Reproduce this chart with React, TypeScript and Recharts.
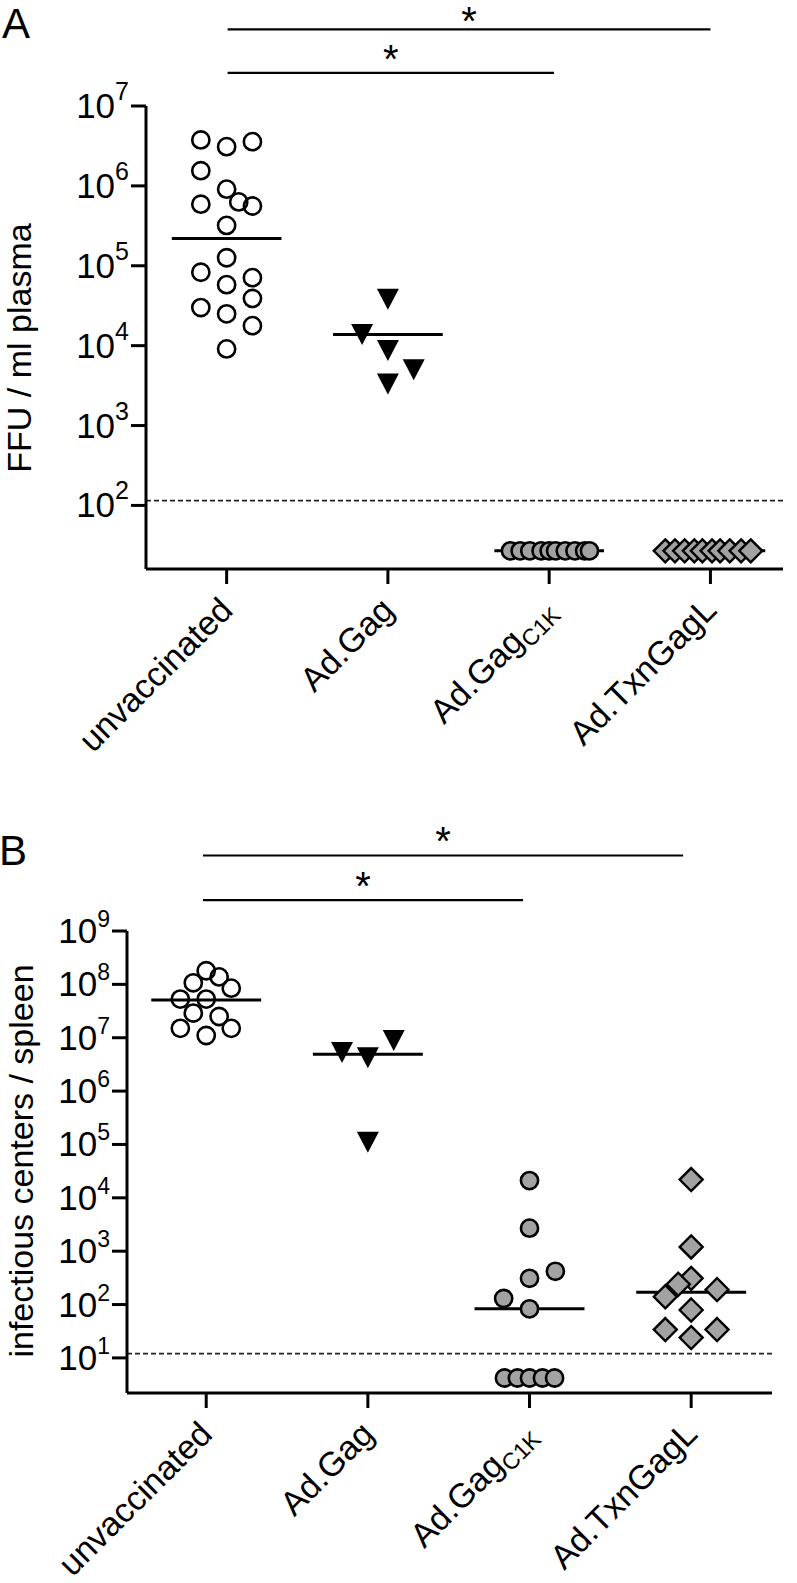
import React from 'react';
import {
  ScatterChart,
  Scatter,
  XAxis,
  YAxis,
  ReferenceLine,
} from 'recharts';

const FONT = '"Liberation Sans", Arial, Helvetica, sans-serif';
const GREY = '#a2a2a2';

// categories, shared by both panels
const groups = ['unvaccinated', 'Ad.Gag', 'Ad.Gag', 'Ad.TxnGagL'];
const groupSubs = ['', '', 'C1K', ''];
const groupIdx = [0, 1, 2, 3];

// panel A: FFU / ml plasma
const plasmaUnvac = [3.76e6, 3.1e6, 3.58e6, 1.55e6, 9.1e5, 6.3e5, 5.6e5, 5.9e5, 3.2e5, 1.26e5, 8.3e4, 5.8e4, 7.1e4, 3.9e4, 3.0e4, 2.5e4, 1.78e4, 9.1e3];
const plasmaUnvacJit = [-0.16, 0, 0.16, -0.16, 0, 0.075, 0.16, -0.16, 0, 0, -0.16, 0, 0.16, 0.16, -0.16, 0, 0.16, 0];
const plasmaGag = [3.8e4, 1.38e4, 8.7e3, 5.0e3, 3.3e3];
const plasmaGagJit = [0, -0.16, 0, 0.16, 0];
const plasmaC1K = [27, 27, 27, 27, 27, 27, 27, 27, 27, 27];
const plasmaC1KJit = [-0.24, -0.18, -0.12, -0.05, 0, 0.04, 0.1, 0.16, 0.22, 0.25];
const plasmaTxn = [27, 27, 27, 27, 27, 27, 27, 27, 27, 27];
const plasmaTxnJit = [-0.28, -0.22, -0.16, -0.1, -0.05, 0.01, 0.06, 0.12, 0.19, 0.25];
const plasmaMedians = [2.2e5, 1.38e4, 27, 27];
const plasmaLimit = 115;
const plasmaTicks = [1e2, 1e3, 1e4, 1e5, 1e6, 1e7];
const plasmaDomain = [16, 1e7];
const plasmaSigFrom = [0.006, 0.006];
const plasmaSigTo = [3.0, 2.03];
const plasmaSigLevel = [9.1e7, 2.6e7];

// panel B: infectious centers / spleen
const spleenUnvac = [1.8e8, 1.07e8, 1.38e8, 8.5e7, 5.3e7, 5.3e7, 2.9e7, 2.5e7, 1.5e7, 1.1e7, 1.5e7];
const spleenUnvacJit = [0, -0.08, 0.08, 0.155, -0.16, 0, -0.08, 0.08, -0.16, 0, 0.155];
const spleenGag = [5.3e6, 4.2e6, 8.9e6, 1.1e5];
const spleenGagJit = [-0.16, 0, 0.16, 0];
const spleenC1K = [2.1e4, 2.7e3, 3.1e2, 4.2e2, 1.3e2, 83, 4.2, 4.2, 4.2, 4.2, 4.2];
const spleenC1KJit = [0, 0, 0, 0.16, -0.16, 0, -0.155, -0.075, 0, 0.08, 0.155];
const spleenTxn = [2.2e4, 1.2e3, 3.1e2, 2.4e2, 1.4e2, 1.9e2, 79, 34, 34, 24];
const spleenTxnJit = [0, 0, 0, -0.08, -0.16, 0.16, 0, -0.16, 0.16, 0];
const spleenMedians = [5.1e7, 4.9e6, 83, 1.7e2];
const spleenLimit = 12;
const spleenTicks = [1e1, 1e2, 1e3, 1e4, 1e5, 1e6, 1e7, 1e8, 1e9];
const spleenDomain = [2.2, 1e9];
const spleenSigFrom = [-0.02, -0.02];
const spleenSigTo = [2.95, 1.96];
const spleenSigLevel = [2.6e10, 3.8e9];

const pts = (g: number, vals: number[], jit: number[]) =>
  vals.map((v, i) => ({ x: g + jit[i], y: v }));

const OpenCircle = (p: any) => (
  <circle cx={p.cx} cy={p.cy} r={8.6} fill="none" stroke="#000" strokeWidth={2.6} />
);
const GreyCircle = (p: any) => (
  <circle cx={p.cx} cy={p.cy} r={8.6} fill={GREY} stroke="#000" strokeWidth={2.6} />
);
const DownTriangle = (p: any) => (
  <path
    d={`M${p.cx - 11},${p.cy - 10.5} L${p.cx + 11},${p.cy - 10.5} L${p.cx},${p.cy + 10.5} Z`}
    fill="#000"
  />
);
const Diamond = (p: any) => (
  <path
    d={`M${p.cx},${p.cy - 11.5} L${p.cx + 11.5},${p.cy} L${p.cx},${p.cy + 11.5} L${p.cx - 11.5},${p.cy} Z`}
    fill={GREY}
    stroke="#000"
    strokeWidth={2.4}
    strokeLinejoin="miter"
  />
);

const makeYTick = (supDy: number, supSize: number) => (props: any) => {
  const { x, y, payload } = props;
  const exp = Math.round(Math.log10(payload.value));
  return (
    <text x={x} y={y + 12} textAnchor="end" fontSize={35} fontFamily={FONT} fill="#000">
      10
      <tspan dy={supDy} fontSize={supSize}>{exp}</tspan>
    </text>
  );
};

const XTick = (props: any) => {
  const { x, y, payload } = props;
  const i = Math.round(payload.value);
  return (
    <g transform={`translate(${x + 8},${y + 26}) rotate(-45)`}>
      <text x={0} y={0} textAnchor="end" fontSize={34} fontFamily={FONT} fill="#000">
        {groups[i]}
        {groupSubs[i] ? <tspan dy={7} fontSize={23}>{groupSubs[i]}</tspan> : null}
      </text>
    </g>
  );
};

const axisStyle = { stroke: '#000', strokeWidth: 3 };

type PanelProps = {
  top: number;
  height: number;
  margin: { top: number; right: number; bottom: number; left: number };
  domain: number[];
  yTicks: number[];
  series: { data: { x: number; y: number }[]; shape: any }[];
  medians: number[];
  limit: number;
  sigFrom: number[];
  sigTo: number[];
  sigLevel: number[];
  starOffset: number[];
  xDomain: number[];
  supDy: number;
  supSize: number;
};

const Panel = (p: PanelProps) => (
  <div style={{ position: 'absolute', left: 0, top: p.top }}>
    <ScatterChart width={797} height={p.height} margin={p.margin}>
      <XAxis
        type="number"
        dataKey="x"
        domain={p.xDomain}
        ticks={groupIdx}
        allowDataOverflow
        interval={0}
        height={150}
        axisLine={axisStyle}
        tickLine={axisStyle}
        tickSize={15}
        tickMargin={2}
        tick={<XTick />}
      />
      <YAxis
        type="number"
        dataKey="y"
        scale="log"
        domain={p.domain}
        ticks={p.yTicks}
        allowDataOverflow
        interval={0}
        width={80}
        axisLine={axisStyle}
        tickLine={axisStyle}
        tickSize={15}
        tickMargin={2}
        tick={makeYTick(p.supDy, p.supSize)}
      />
      <ReferenceLine
        y={p.limit}
        stroke="#222"
        strokeWidth={1.8}
        strokeDasharray="5 3"
        ifOverflow="visible"
      />
      {p.series.map((s, i) => (
        <Scatter key={i} data={s.data} shape={s.shape} isAnimationActive={false} />
      ))}
      {p.medians.map((m, i) => (
        <ReferenceLine
          key={`m${i}`}
          segment={[{ x: i - 0.34, y: m }, { x: i + 0.34, y: m }]}
          stroke="#000"
          strokeWidth={3}
          ifOverflow="visible"
        />
      ))}
      {p.sigLevel.map((lv, i) => (
        <ReferenceLine
          key={`s${i}`}
          segment={[{ x: p.sigFrom[i], y: lv }, { x: p.sigTo[i], y: lv }]}
          stroke="#000"
          strokeWidth={2.2}
          ifOverflow="visible"
          label={{ value: '*', position: 'top', offset: p.starOffset[i], fontSize: 40, fill: '#000', fontFamily: FONT }}
        />
      ))}
    </ScatterChart>
  </div>
);

export default function App() {
  return (
    <div style={{ position: 'absolute', left: 0, top: 0, width: 797, height: 1583, background: '#fff', fontFamily: FONT }}>
      <Panel
        top={0}
        height={800}
        margin={{ top: 106, right: 14, bottom: 81, left: 66 }}
        domain={plasmaDomain}
        yTicks={plasmaTicks}
        xDomain={[-0.5, 3.45]}
        series={[
          { data: pts(0, plasmaUnvac, plasmaUnvacJit), shape: OpenCircle },
          { data: pts(1, plasmaGag, plasmaGagJit), shape: DownTriangle },
          { data: pts(2, plasmaC1K, plasmaC1KJit), shape: GreyCircle },
          { data: pts(3, plasmaTxn, plasmaTxnJit), shape: Diamond },
        ]}
        medians={plasmaMedians}
        limit={plasmaLimit}
        sigFrom={plasmaSigFrom}
        sigTo={plasmaSigTo}
        sigLevel={plasmaSigLevel}
        starOffset={[-6, 0]}
        supDy={-18}
        supSize={25}
      />
      <Panel
        top={800}
        height={783}
        margin={{ top: 131, right: 25, bottom: 40, left: 47 }}
        domain={spleenDomain}
        yTicks={spleenTicks}
        xDomain={[-0.49, 3.5]}
        series={[
          { data: pts(0, spleenUnvac, spleenUnvacJit), shape: OpenCircle },
          { data: pts(1, spleenGag, spleenGagJit), shape: DownTriangle },
          { data: pts(2, spleenC1K, spleenC1KJit), shape: GreyCircle },
          { data: pts(3, spleenTxn, spleenTxnJit), shape: Diamond },
        ]}
        medians={spleenMedians}
        limit={spleenLimit}
        sigFrom={spleenSigFrom}
        sigTo={spleenSigTo}
        sigLevel={spleenSigLevel}
        starOffset={[0, 0]}
        supDy={-16}
        supSize={23}
      />
      <svg width={797} height={1583} style={{ position: 'absolute', left: 0, top: 0, pointerEvents: 'none' }}>
        <text x={2} y={38} fontSize={42} fontFamily={FONT}>A</text>
        <text x={-1} y={865} fontSize={42} fontFamily={FONT}>B</text>
        <text x={31} y={348} fontSize={34} fontFamily={FONT} textAnchor="middle" transform="rotate(-90 31 348)">
          FFU / ml plasma
        </text>
        <text x={33} y={1161} fontSize={34} fontFamily={FONT} textAnchor="middle" transform="rotate(-90 33 1161)">
          infectious centers / spleen
        </text>
      </svg>
    </div>
  );
}
